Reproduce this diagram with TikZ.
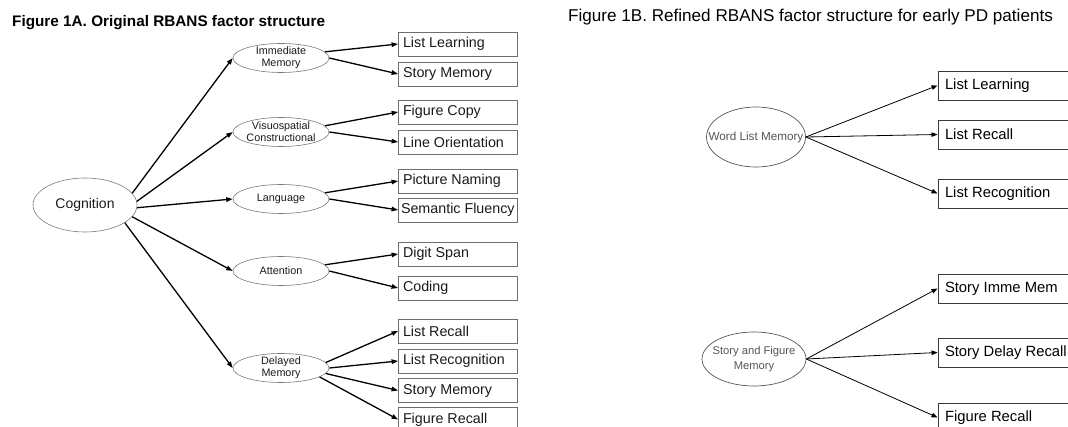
\documentclass[tikz,border=0pt]{standalone}
\usepackage{fontspec}
\setmainfont{Liberation Sans}
\usetikzlibrary{arrows.meta,shapes.geometric}
\definecolor{ellgray}{HTML}{7A7A7A}
\definecolor{lboxgray}{HTML}{6E6E6E}
\definecolor{rboxgray}{HTML}{3A3A3A}
\definecolor{rtxtgray}{HTML}{555555}
\definecolor{ink}{HTML}{1A1A1A}
\newcommand{\lbtext}[1]{\makebox[110pt][l]{#1}}
\newcommand{\rbtext}[1]{\makebox[128pt][l]{#1}}
\tikzset{
  lell/.style={ellipse, draw=ellgray, line width=0.6pt, minimum width=96pt, minimum height=29pt, inner sep=0pt},
  ltxt/.style={align=center, inner sep=0pt, text=ink, font=\fontsize{10.8}{12}\selectfont},
  lbox/.style={draw=lboxgray, line width=0.8pt, minimum height=24pt, inner xsep=4.5pt, inner ysep=0pt, text=ink, font=\fontsize{14.3}{16}\selectfont},
  larr/.style={draw=black, line width=1.3pt, -{Triangle[length=6.5pt,width=4.5pt]}},
  rell/.style={ellipse, draw=rtxtgray, line width=0.7pt, inner sep=0pt},
  rtxt/.style={align=center, inner sep=0pt, text=rtxtgray},
  rbox/.style={draw=rboxgray, line width=0.9pt, minimum height=29pt, inner xsep=7pt, inner ysep=0pt, text=black, font=\fontsize{14.8}{17}\selectfont},
  rarr/.style={draw=black, line width=0.8pt, -{Triangle[length=6pt,width=4.5pt]}}
}
\begin{document}
\begin{tikzpicture}[x=1pt,y=-1pt]
\useasboundingbox (0,0) rectangle (1068,427);
% ---------- Figure 1A ----------
\node[anchor=base west, inner sep=0pt, text=black] (t1) at (12,27) {\fontsize{15.3}{18}\selectfont\bfseries Figure 1A. Original RBANS factor structure};

\node[ellipse, draw=ellgray, line width=0.6pt, minimum width=104pt, minimum height=54pt, inner sep=0pt] (cog) at (85,205) {};
\node[inner sep=0pt, text=ink, font=\fontsize{14}{16}\selectfont] (cogt) at (cog) {Cognition};

\node[lell] (imm) at (281,58) {};
\node[ltxt] (immt) at (imm) {Immediate\\Memory};
\node[lell] (vis) at (281,132) {};
\node[ltxt] (vist) at (vis) {Visuospatial\\Constructional};
\node[lell] (lang) at (281,199) {};
\node[ltxt] (langt) at (lang) {Language};
\node[lell] (att) at (281,271) {};
\node[ltxt] (attt) at (att) {Attention};
\node[lell] (del) at (281,368) {};
\node[ltxt] (delt) at (del) {Delayed\\Memory};

\node[lbox] (b1) at (458,44) {\lbtext{List Learning}};
\node[lbox] (b2) at (458,74) {\lbtext{Story Memory}};
\node[lbox] (b3) at (458,112) {\lbtext{Figure Copy}};
\node[lbox] (b4) at (458,142) {\lbtext{Line Orientation}};
\node[lbox] (b5) at (458,181) {\lbtext{Picture Naming}};
\node[lbox] (b6) at (458,210) {\lbtext{\hspace{-2pt}Semantic Fluency}};
\node[lbox] (b7) at (458,254) {\lbtext{Digit Span}};
\node[lbox] (b8) at (458,288) {\lbtext{Coding}};
\node[lbox] (b9) at (458,331) {\lbtext{List Recall}};
\node[lbox] (b10) at (458,361) {\lbtext{List Recognition}};
\node[lbox] (b11) at (458,390.5) {\lbtext{Story Memory}};
\node[lbox] (b12) at (458,419.5) {\lbtext{Figure Recall}};

\draw[larr] (cog.14) -- (imm.west);
\draw[larr] (cog.4) -- (vis.west);
\draw[larr] (cog.-3) -- (lang.west);
\draw[larr] (cog.-14) -- (att.west);
\draw[larr] (cog.-24) -- (del.west);

\draw[larr] (imm.8) -- (b1.west);
\draw[larr] (imm.0) -- (b2.west);
\draw[larr] (vis.8) -- (b3.west);
\draw[larr] (vis.0) -- (b4.west);
\draw[larr] (lang.8) -- (b5.west);
\draw[larr] (lang.0) -- (b6.west);
\draw[larr] (att.8) -- (b7.west);
\draw[larr] (att.0) -- (b8.west);
\draw[larr] (del.7) -- (b9.west);
\draw[larr] (del.0) -- (b10.west);
\draw[larr] (del.-7) -- (b11.west);
\draw[larr] (del.-13) -- (b12.west);

% ---------- Figure 1B ----------
\node[anchor=base west, inner sep=0pt, text=black] (t2) at (568,22) {\fontsize{17.1}{19}\selectfont Figure 1B. Refined RBANS factor structure for early PD patients};

\node[rell, minimum width=99pt, minimum height=60pt] (wlm) at (756,137) {};
\node[rtxt, font=\fontsize{11.7}{13}\selectfont] (wlmt) at (wlm) {Word List Memory};
\node[rell, minimum width=104pt, minimum height=54pt] (sfm) at (754,359) {};
\node[rtxt, font=\fontsize{11.2}{15}\selectfont] (sfmt) at (sfm) {Story and Figure\\Memory};

\node[rbox] (r1) at (1009,85.5) {\rbtext{List Learning}};
\node[rbox] (r2) at (1009,134.5) {\rbtext{List Recall}};
\node[rbox] (r3) at (1009,193.5) {\rbtext{List Recognition}};
\node[rbox] (r4) at (1009,288.5) {\rbtext{Story Imme Mem}};
\node[rbox] (r5) at (1009,352.5) {\rbtext{Story Delay Recall}};
\node[rbox] (r6) at (1009,417.5) {\rbtext{Figure Recall}};

\draw[rarr] (wlm.east) -- (r1.west);
\draw[rarr] (wlm.east) -- (r2.west);
\draw[rarr] (wlm.east) -- (r3.west);
\draw[rarr] (sfm.east) -- (r4.west);
\draw[rarr] (sfm.east) -- (r5.west);
\draw[rarr] (sfm.east) -- (r6.west);
\end{tikzpicture}
\end{document}
